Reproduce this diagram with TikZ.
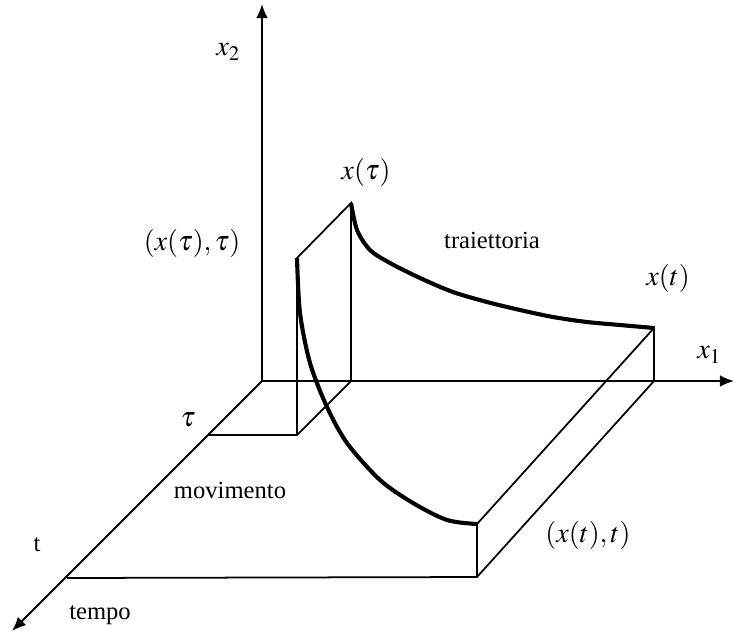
\documentclass[tikz,border=0pt]{standalone}
\usepackage{mathptmx}
\usepackage[no-math]{fontspec}
\setmainfont{Liberation Serif}
\usetikzlibrary{arrows.meta}
\tikzset{
  every node/.style={font=\fontsize{21}{25}\selectfont, inner sep=0pt},
  mathlabel/.style={font=\fontsize{24}{28}\selectfont},
  axis/.style={line width=1.6pt, -{Latex[length=12pt,width=10pt]}},
  edge/.style={line width=1.5pt},
  curve/.style={line width=3.5pt}
}
\begin{document}
\begin{tikzpicture}[x=0.03cm, y=-0.03cm]
\useasboundingbox (0,0) rectangle (734,633);
\coordinate (o) at (262,381);
\coordinate (x2end) at (262,4);
\coordinate (x1end) at (734,381);
\coordinate (tend) at (12,631);
\coordinate (tau) at (208,435);
\coordinate (a) at (297,435);
\coordinate (b) at (351,381);
\coordinate (c) at (297,258);
\coordinate (d) at (351,203);
\coordinate (e) at (654,328);
\coordinate (f) at (654,381);
\coordinate (g) at (477,577);
\coordinate (h) at (477,524);
\coordinate (k) at (67,578);

% axes
\draw[axis] (o) -- (x2end);
\draw[axis] (o) -- (x1end);
\draw[axis] (o) -- (tend);

% box at tau and box at t
\draw[edge] (tau) -- (a) -- (b) -- (d) -- (c) -- (a);
\draw[edge] (k) -- (g) -- (f) -- (e) -- (h) -- (g);

% trajectory and motion
\draw[curve] plot[smooth] coordinates {(351,203) (357,230) (370,250) (390,263) (420,278) (453,292) (487,302) (520,310) (553,317) (587,322) (620,325) (654,328)};
\draw[curve] plot[smooth] coordinates {(297,258) (300,313) (310,363) (327,407) (347,443) (380,480) (413,503) (447,520) (477,524)};

\node[mathlabel] (lx2) at (228,52) {$x_2$};
\node[mathlabel] (lx1) at (709,355) {$x_1$};
\node[mathlabel] (lxtau) at (366,172) {$x(\tau)$};
\node[mathlabel] (lxtautau) at (192,243) {$(x(\tau),\tau)$};
\node (ltraj) at (492,240) {traiettoria};
\node[mathlabel] (lxt) at (668,278) {$x(t)$};
\node[mathlabel] (lxtt) at (588,535) {$(x(t),t)$};
\node[mathlabel] (ltau) at (188,420) {$\tau$};
\node (lmov) at (230,490) {movimento};
\node (lt) at (37,545) {t};
\node (ltempo) at (100,615) {tempo};
\end{tikzpicture}
\end{document}
